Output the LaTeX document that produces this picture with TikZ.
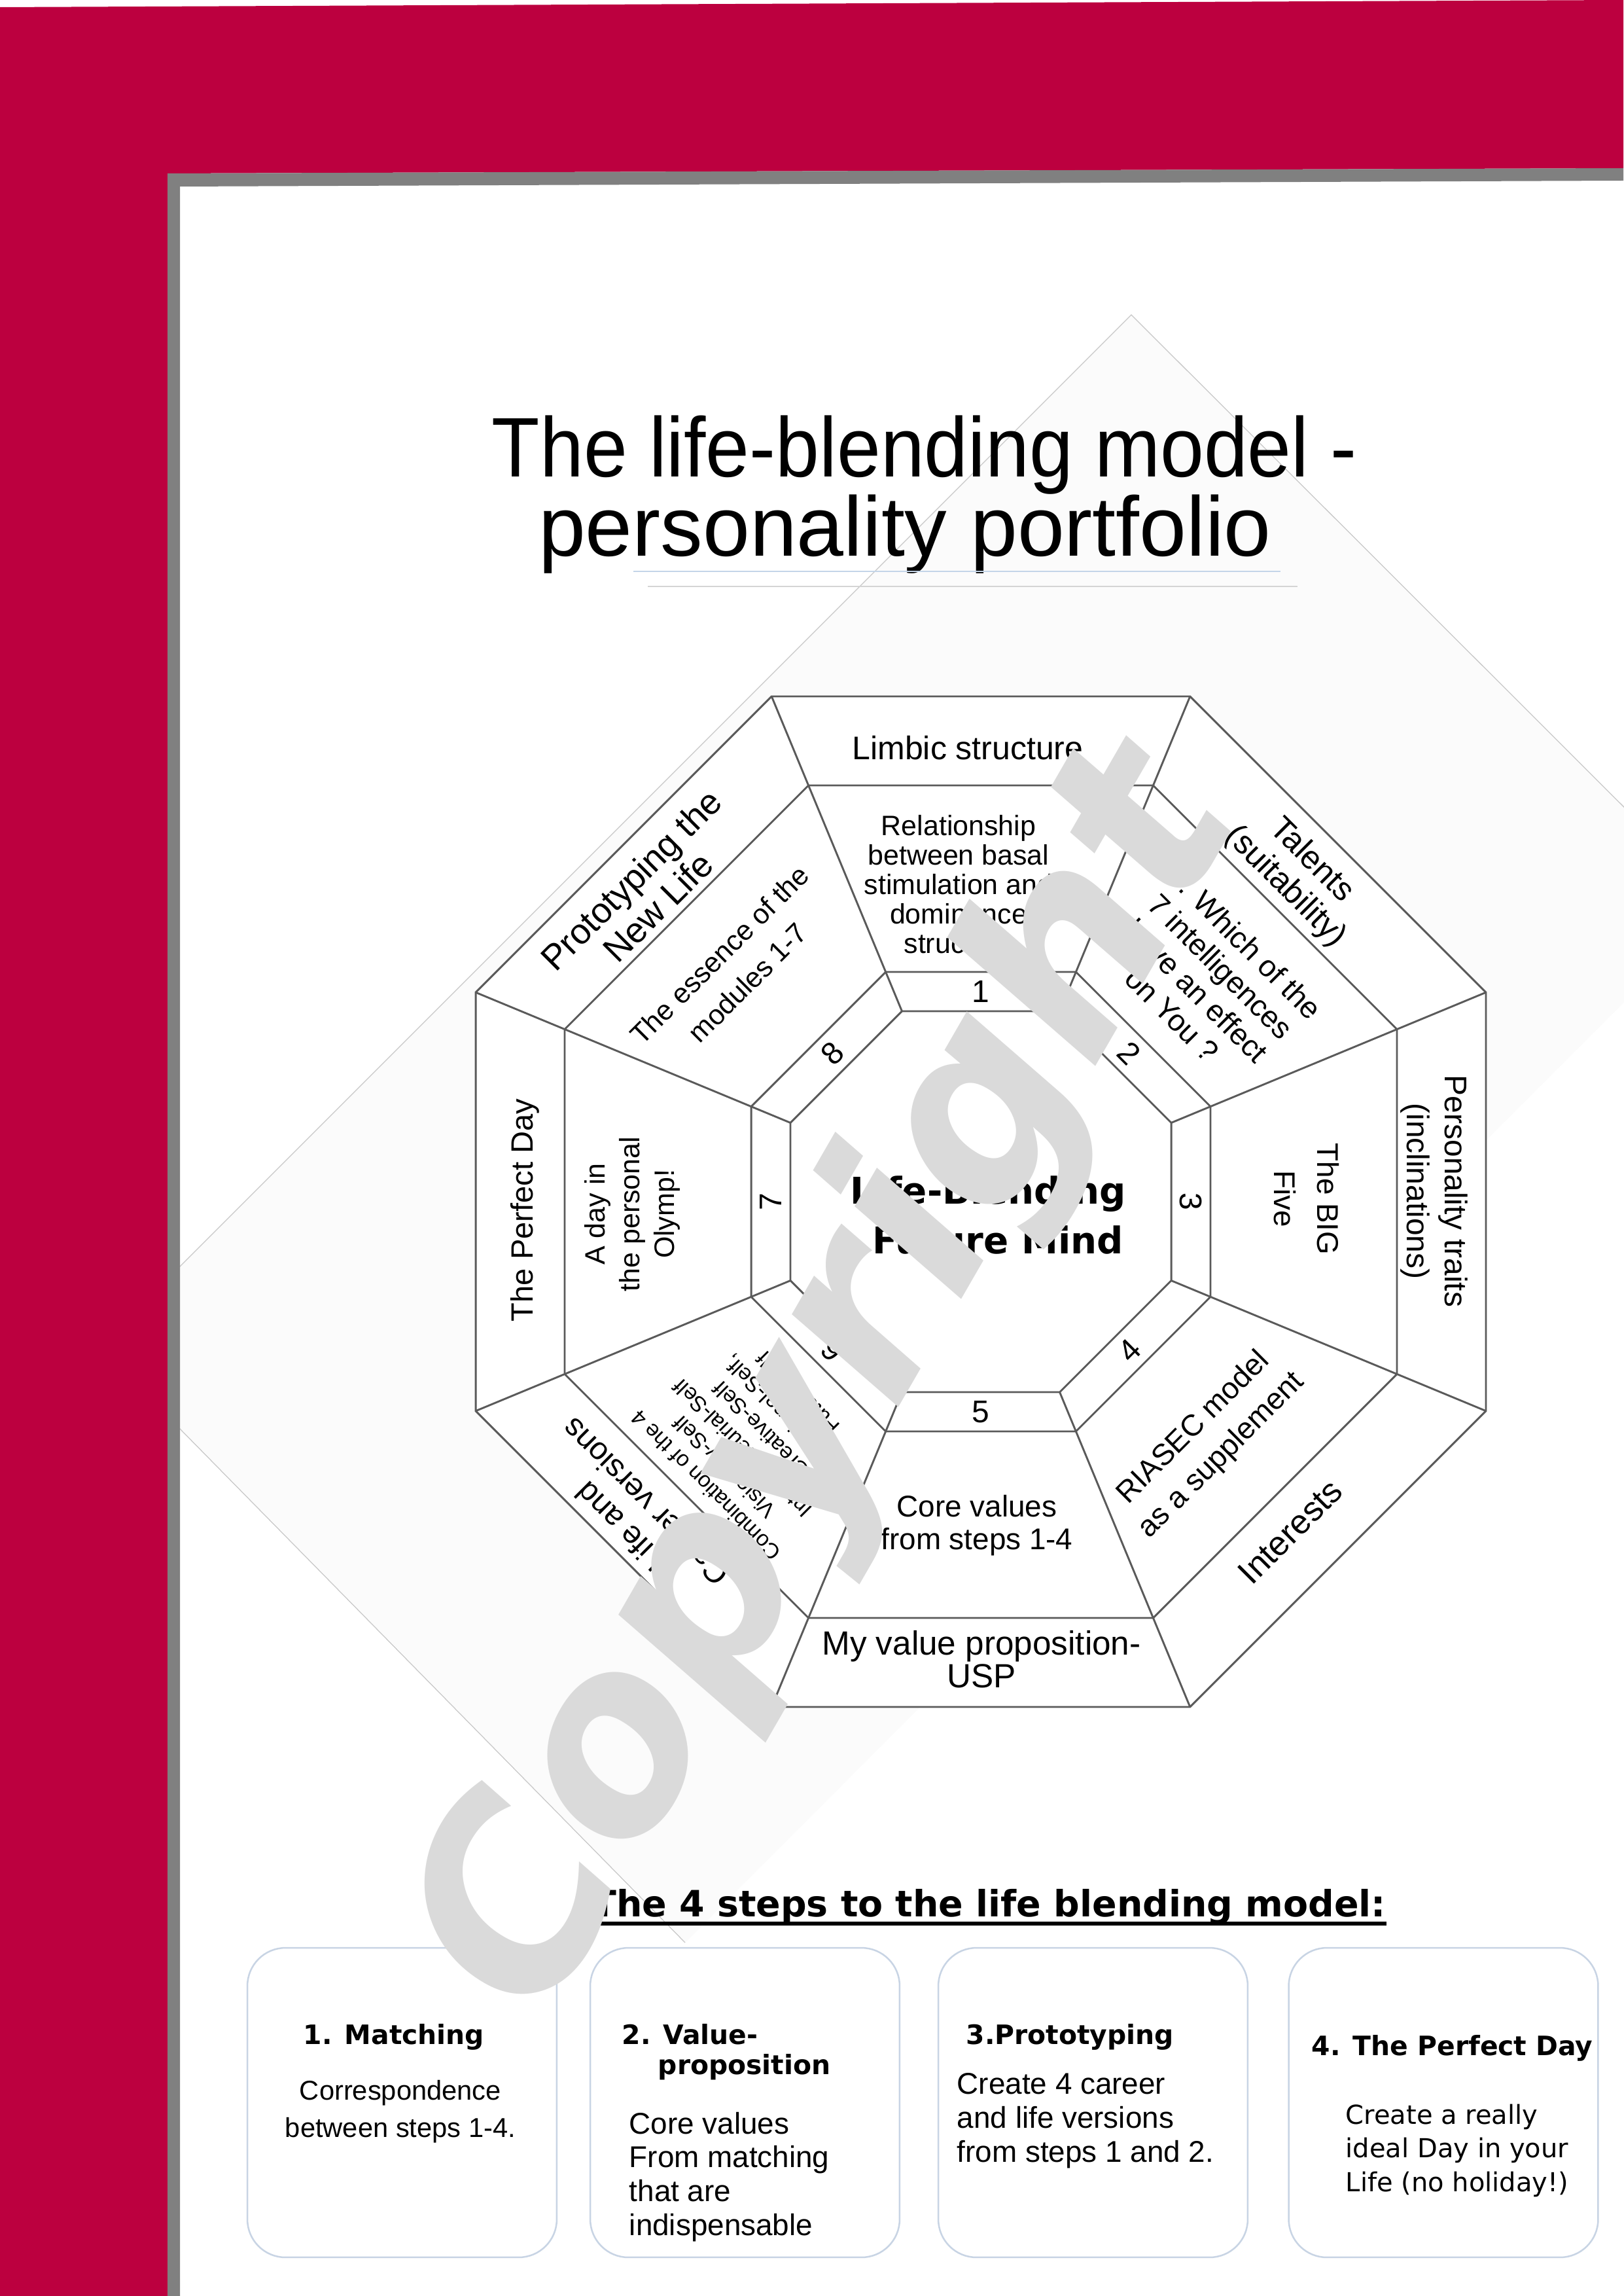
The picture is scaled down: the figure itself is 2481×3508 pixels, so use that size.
\documentclass[tikz,border=0pt]{standalone}
\usepackage{fontspec}
\usepackage{graphicx}
\setmainfont{Liberation Sans}
\newfontfamily\dejavu{DejaVu Sans}
\usetikzlibrary{calc}
\definecolor{framered}{RGB}{188,0,63}
\definecolor{shadowgray}{RGB}{128,128,128}
\definecolor{wmgray}{RGB}{218,218,218}
\definecolor{boxline}{RGB}{200,212,228}
\definecolor{octline}{RGB}{90,90,90}
\definecolor{pageshade}{RGB}{251,251,251}
\definecolor{pageedge}{RGB}{200,200,200}
\definecolor{titleblue}{RGB}{196,213,232}
\definecolor{titlegray}{RGB}{212,212,212}
\newcommand{\setfs}[2]{\fontsize{#1}{#2}\selectfont}

\begin{document}
\begin{tikzpicture}[x=0.24pt,y=-0.24pt,
  octedge/.style={draw=octline,line width=0.7pt,line join=miter},
  segtext/.style={align=center,inner sep=0pt,text=black},
  numtext/.style={inner sep=0pt,font=\setfs{11.5}{13}},
  stepbox/.style={draw=boxline,line width=0.6pt,rounded corners=14pt,fill=white,minimum width=113.5pt,minimum height=113.5pt,inner sep=0pt},
  stephead/.style={inner sep=0pt,font=\dejavu\bfseries\setfs{9.8}{11}},
  stepbody/.style={inner sep=0pt,align=left,font=\setfs{11}{12.4}},
]
\useasboundingbox (0,0) rectangle (2481,3508);
\fill[white] (0,0) rectangle (2481,3508);

% faint rotated page in the background
\fill[pageshade] (1729,481) -- (2631,1382) -- (1047,2968) -- (152,2058) -- cycle;
\draw[pageedge,line width=0.3pt] (152,2058) -- (1729,481) -- (2631,1382);
\draw[pageedge,line width=0.3pt] (152,2058) -- (1047,2968);

% red frame with grey shadow
\fill[framered] (0,11) -- (2481,0) -- (2481,257) -- (256,265) -- (256,3508) -- (0,3508) -- cycle;
\fill[shadowgray] (256,265) -- (2481,257) -- (2481,276) -- (275,285) -- (275,3508) -- (256,3508) -- cycle;

% title
\node[anchor=base,inner sep=0pt,font=\setfs{31}{36}] (title1) at (1413,729) {\scalebox{0.93}[1]{The life-blending model -}};
\node[anchor=base,inner sep=0pt,font=\setfs{31}{36}] (title2) at (1383,850) {personality portfolio};
\draw[titleblue,line width=0.5pt] (968,873) -- (1957,873);
\draw[titlegray,line width=0.5pt] (990,896) -- (1983,896);

% octagon
\def\cx{1499}\def\cy{1836}
\foreach \k in {0,...,7}{
  \pgfmathsetmacro\ang{22.5+45*\k}
  \coordinate (o\k) at ({\cx+835.6*cos(\ang)},{\cy-835.6*sin(\ang)});
  \coordinate (m\k) at ({\cx+688.4*cos(\ang)},{\cy-688.4*sin(\ang)});
  \coordinate (n\k) at ({\cx+379.9*cos(\ang)},{\cy-379.9*sin(\ang)});
  \coordinate (i\k) at ({\cx+315.0*cos(\ang)},{\cy-315.0*sin(\ang)});
}
\fill[white] (o0)--(o1)--(o2)--(o3)--(o4)--(o5)--(o6)--(o7)--cycle;
\foreach \r in {o,m,n,i}
  \draw[octedge] (\r0)--(\r1)--(\r2)--(\r3)--(\r4)--(\r5)--(\r6)--(\r7)--cycle;
\foreach \k in {0,...,7}
  \draw[octedge] (o\k)--(i\k);

% numbers
\node[numtext] (num1) at (1499,1515) {1};
\node[numtext,rotate=-45] (num2) at (1726,1609) {2};
\node[numtext,rotate=-90] (num3) at (1820,1836) {3};
\node[numtext,rotate=45] (num4) at (1726,2063) {4};
\node[numtext] (num5) at (1499,2157) {5};
\node[numtext,rotate=135] (num6) at (1272,2063) {6};
\node[numtext,rotate=90] (num7) at (1178,1836) {7};
\node[numtext,rotate=45] (num8) at (1272,1609) {8};

% centre
\node[anchor=base,inner sep=0pt,font=\dejavu\bfseries\setfs{13.5}{16}] (core1) at (1510,1839) {Life-Blending};
\node[anchor=base,inner sep=0pt,font=\dejavu\bfseries\setfs{13.5}{16}] (core2) at (1525,1915) {Future Mind};

% segment texts
\node[segtext,font=\setfs{12}{13}] (limbic) at (1479,1143) {Limbic structure};
\node[segtext,font=\setfs{10.3}{10.8}] (relation) at (1465,1351) {Relationship\\between basal\\stimulation and\\dominance\\structure};
\node[segtext,rotate=-45,font=\setfs{12}{13.5}] (talents) at (1984,1335) {Talents\\(suitability)};
\node[segtext,rotate=-45,font=\setfs{11}{12.5}] (intell) at (1847,1495) {7. Which of the\\7 intelligences\\have an effect\\on You ?};
\node[segtext,rotate=-90,font=\setfs{11.5}{14}] (traits) at (2192,1820) {Personality traits\\(inclinations)};
\node[segtext,rotate=-90,font=\setfs{11}{16}] (bigfive) at (1997,1832) {The BIG\\Five};
\node[segtext,rotate=45,font=\setfs{12.5}{14}] (interests) at (1972,2340) {Interests};
\node[segtext,rotate=45,font=\setfs{11}{14.5}] (riasec) at (1846,2203) {RIASEC model\\as a supplement};
\node[segtext,font=\setfs{12.3}{12}] (usp) at (1500,2535) {My value proposition-\\USP};
\node[segtext,font=\setfs{11}{12}] (corevalues) at (1493,2331) {Core values\\from steps 1-4};
\node[segtext,rotate=135,font=\setfs{11.5}{13}] (career) at (967,2314) {Life and\\Career versions};
\node[segtext,rotate=135,font=\setfs{8}{9.6}] (selves) at (1149,2199) {Combination of the 4\\Visionary-Self\\Intrapreneurial-Self\\Creative-Self\\Emotional-Self,\\Future Self};
\node[segtext,rotate=90,font=\setfs{11.3}{13}] (perfectday) at (802,1849) {The Perfect Day};
\node[segtext,rotate=90,font=\setfs{10.3}{12.7}] (olymp) at (966,1855) {A day in\\the personal\\Olymp!};
\node[segtext,rotate=45,font=\setfs{13}{14}] (prototyping) at (985,1365) {Prototyping the\\New Life};
\node[segtext,rotate=45,font=\setfs{10.3}{14.5}] (essence) at (1121,1480) {The essence of the\\modules 1-7};

% steps heading
\node[anchor=base,inner sep=0pt,font=\dejavu\bfseries\setfs{13.3}{16}] (stepshead) at (1511,2928) {The 4 steps to the life blending model:};
\draw[line width=1.3pt] ([yshift=-2.6pt]stepshead.base west) -- ([yshift=-2.6pt]stepshead.base east);

% step boxes
\node[stepbox] (box1) at (614.5,3212.5) {};
\node[stepbox] (box2) at (1138.5,3212.5) {};
\node[stepbox] (box3) at (1670.5,3212.5) {};
\node[stepbox] (box4) at (2206,3212.5) {};

\node[stephead,anchor=base] (s1h) at (602,3123) {1. Matching};
\node[inner sep=0pt,align=center,anchor=north,font=\setfs{10}{13.9}] (s1b) at (612,3177) {Correspondence\\between steps 1-4.};
\node[stephead,anchor=base west] (s2h) at (950,3123) {2. Value-};
\node[stephead,anchor=base west] (s2h2) at (1005,3169) {proposition};
\node[stepbody,anchor=north west] (s2b) at (961,3226) {Core values\\From matching\\that are\\indispensable};
\node[stephead,anchor=base west] (s3h) at (1476,3123) {3.Prototyping};
\node[stepbody,anchor=north west] (s3b) at (1462,3167) {Create 4 career\\and life versions\\from steps 1 and 2.};
\node[stephead,anchor=base west] (s4h) at (2004,3140) {4. The Perfect Day};
\node[stepbody,anchor=north west,font=\dejavu\setfs{9.6}{12.4}] (s4b) at (2056,3214) {Create a really\\ideal Day in your\\Life (no holiday!)};

% watermark
\node[rotate=60,inner sep=0pt,text=wmgray,font=\dejavu\bfseries\itshape\setfs{93}{100}] (wm) at (1272,2116) {Copyright};
\end{tikzpicture}
\end{document}
